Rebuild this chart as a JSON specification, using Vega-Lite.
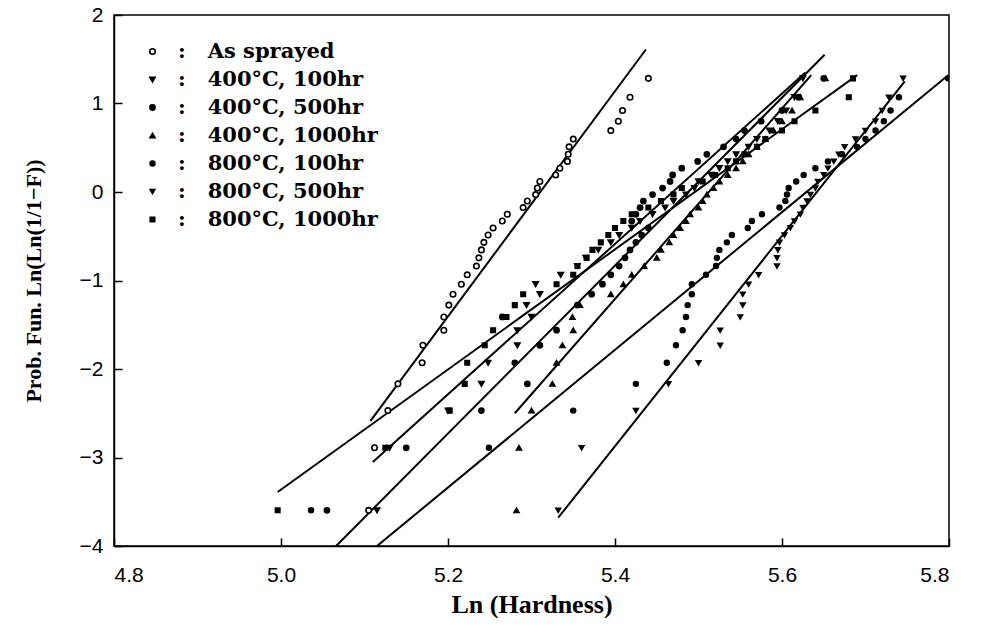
{
  "$schema": "https://vega.github.io/schema/vega-lite/v6.json",
  "width": 835,
  "height": 531,
  "autosize": {"type": "none"},
  "padding": {"left": 114, "top": 15, "right": 32, "bottom": 80},
  "background": "white",
  "datasets": {
    "pts": [
      {"s":"As sprayed","x":5.105,"y":-3.597},{"s":"As sprayed","x":5.112,"y":-2.890},{"s":"As sprayed","x":5.128,"y":-2.470},{"s":"As sprayed","x":5.140,"y":-2.168},{"s":"As sprayed","x":5.169,"y":-1.930},{"s":"As sprayed","x":5.170,"y":-1.732},{"s":"As sprayed","x":5.195,"y":-1.562},{"s":"As sprayed","x":5.195,"y":-1.412},{"s":"As sprayed","x":5.201,"y":-1.278},{"s":"As sprayed","x":5.206,"y":-1.155},{"s":"As sprayed","x":5.216,"y":-1.042},{"s":"As sprayed","x":5.223,"y":-0.936},{"s":"As sprayed","x":5.234,"y":-0.837},{"s":"As sprayed","x":5.237,"y":-0.744},{"s":"As sprayed","x":5.240,"y":-0.654},{"s":"As sprayed","x":5.243,"y":-0.569},{"s":"As sprayed","x":5.248,"y":-0.486},{"s":"As sprayed","x":5.254,"y":-0.406},{"s":"As sprayed","x":5.265,"y":-0.328},{"s":"As sprayed","x":5.271,"y":-0.251},{"s":"As sprayed","x":5.290,"y":-0.176},{"s":"As sprayed","x":5.295,"y":-0.102},{"s":"As sprayed","x":5.305,"y":-0.029},{"s":"As sprayed","x":5.307,"y":0.045},{"s":"As sprayed","x":5.310,"y":0.119},{"s":"As sprayed","x":5.329,"y":0.193},{"s":"As sprayed","x":5.334,"y":0.269},{"s":"As sprayed","x":5.343,"y":0.346},{"s":"As sprayed","x":5.344,"y":0.426},{"s":"As sprayed","x":5.345,"y":0.510},{"s":"As sprayed","x":5.350,"y":0.598},{"s":"As sprayed","x":5.395,"y":0.694},{"s":"As sprayed","x":5.404,"y":0.800},{"s":"As sprayed","x":5.409,"y":0.921},{"s":"As sprayed","x":5.418,"y":1.071},{"s":"As sprayed","x":5.440,"y":1.284},
      {"s":"400°C, 100hr","x":5.115,"y":-3.597},{"s":"400°C, 100hr","x":5.130,"y":-2.890},{"s":"400°C, 100hr","x":5.200,"y":-2.470},{"s":"400°C, 100hr","x":5.240,"y":-2.168},{"s":"400°C, 100hr","x":5.248,"y":-1.930},{"s":"400°C, 100hr","x":5.283,"y":-1.732},{"s":"400°C, 100hr","x":5.283,"y":-1.562},{"s":"400°C, 100hr","x":5.300,"y":-1.412},{"s":"400°C, 100hr","x":5.294,"y":-1.278},{"s":"400°C, 100hr","x":5.310,"y":-1.155},{"s":"400°C, 100hr","x":5.305,"y":-1.042},{"s":"400°C, 100hr","x":5.335,"y":-0.936},{"s":"400°C, 100hr","x":5.355,"y":-0.837},{"s":"400°C, 100hr","x":5.365,"y":-0.744},{"s":"400°C, 100hr","x":5.380,"y":-0.654},{"s":"400°C, 100hr","x":5.395,"y":-0.569},{"s":"400°C, 100hr","x":5.405,"y":-0.486},{"s":"400°C, 100hr","x":5.420,"y":-0.406},{"s":"400°C, 100hr","x":5.430,"y":-0.328},{"s":"400°C, 100hr","x":5.445,"y":-0.251},{"s":"400°C, 100hr","x":5.460,"y":-0.176},{"s":"400°C, 100hr","x":5.470,"y":-0.102},{"s":"400°C, 100hr","x":5.485,"y":-0.029},{"s":"400°C, 100hr","x":5.495,"y":0.045},{"s":"400°C, 100hr","x":5.500,"y":0.119},{"s":"400°C, 100hr","x":5.515,"y":0.193},{"s":"400°C, 100hr","x":5.525,"y":0.269},{"s":"400°C, 100hr","x":5.535,"y":0.346},{"s":"400°C, 100hr","x":5.545,"y":0.426},{"s":"400°C, 100hr","x":5.560,"y":0.510},{"s":"400°C, 100hr","x":5.570,"y":0.598},{"s":"400°C, 100hr","x":5.585,"y":0.694},{"s":"400°C, 100hr","x":5.595,"y":0.800},{"s":"400°C, 100hr","x":5.605,"y":0.921},{"s":"400°C, 100hr","x":5.615,"y":1.071},{"s":"400°C, 100hr","x":5.625,"y":1.284},
      {"s":"400°C, 500hr","x":5.055,"y":-3.597},{"s":"400°C, 500hr","x":5.150,"y":-2.890},{"s":"400°C, 500hr","x":5.240,"y":-2.470},{"s":"400°C, 500hr","x":5.295,"y":-2.168},{"s":"400°C, 500hr","x":5.280,"y":-1.930},{"s":"400°C, 500hr","x":5.310,"y":-1.732},{"s":"400°C, 500hr","x":5.330,"y":-1.562},{"s":"400°C, 500hr","x":5.265,"y":-1.412},{"s":"400°C, 500hr","x":5.355,"y":-1.278},{"s":"400°C, 500hr","x":5.372,"y":-1.155},{"s":"400°C, 500hr","x":5.385,"y":-1.042},{"s":"400°C, 500hr","x":5.395,"y":-0.936},{"s":"400°C, 500hr","x":5.405,"y":-0.837},{"s":"400°C, 500hr","x":5.412,"y":-0.744},{"s":"400°C, 500hr","x":5.418,"y":-0.654},{"s":"400°C, 500hr","x":5.425,"y":-0.569},{"s":"400°C, 500hr","x":5.432,"y":-0.486},{"s":"400°C, 500hr","x":5.440,"y":-0.406},{"s":"400°C, 500hr","x":5.420,"y":-0.328},{"s":"400°C, 500hr","x":5.425,"y":-0.251},{"s":"400°C, 500hr","x":5.430,"y":-0.176},{"s":"400°C, 500hr","x":5.434,"y":-0.102},{"s":"400°C, 500hr","x":5.445,"y":-0.029},{"s":"400°C, 500hr","x":5.457,"y":0.045},{"s":"400°C, 500hr","x":5.466,"y":0.119},{"s":"400°C, 500hr","x":5.469,"y":0.193},{"s":"400°C, 500hr","x":5.480,"y":0.269},{"s":"400°C, 500hr","x":5.499,"y":0.346},{"s":"400°C, 500hr","x":5.510,"y":0.426},{"s":"400°C, 500hr","x":5.530,"y":0.510},{"s":"400°C, 500hr","x":5.545,"y":0.598},{"s":"400°C, 500hr","x":5.555,"y":0.694},{"s":"400°C, 500hr","x":5.575,"y":0.800},{"s":"400°C, 500hr","x":5.600,"y":0.921},{"s":"400°C, 500hr","x":5.620,"y":1.071},{"s":"400°C, 500hr","x":5.650,"y":1.284},
      {"s":"400°C, 1000hr","x":5.282,"y":-3.597},{"s":"400°C, 1000hr","x":5.285,"y":-2.890},{"s":"400°C, 1000hr","x":5.300,"y":-2.470},{"s":"400°C, 1000hr","x":5.325,"y":-2.168},{"s":"400°C, 1000hr","x":5.330,"y":-1.930},{"s":"400°C, 1000hr","x":5.337,"y":-1.732},{"s":"400°C, 1000hr","x":5.350,"y":-1.562},{"s":"400°C, 1000hr","x":5.349,"y":-1.412},{"s":"400°C, 1000hr","x":5.358,"y":-1.278},{"s":"400°C, 1000hr","x":5.395,"y":-1.155},{"s":"400°C, 1000hr","x":5.410,"y":-1.042},{"s":"400°C, 1000hr","x":5.420,"y":-0.936},{"s":"400°C, 1000hr","x":5.435,"y":-0.837},{"s":"400°C, 1000hr","x":5.450,"y":-0.744},{"s":"400°C, 1000hr","x":5.455,"y":-0.654},{"s":"400°C, 1000hr","x":5.465,"y":-0.569},{"s":"400°C, 1000hr","x":5.470,"y":-0.486},{"s":"400°C, 1000hr","x":5.478,"y":-0.406},{"s":"400°C, 1000hr","x":5.485,"y":-0.328},{"s":"400°C, 1000hr","x":5.490,"y":-0.251},{"s":"400°C, 1000hr","x":5.500,"y":-0.176},{"s":"400°C, 1000hr","x":5.505,"y":-0.102},{"s":"400°C, 1000hr","x":5.510,"y":-0.029},{"s":"400°C, 1000hr","x":5.518,"y":0.045},{"s":"400°C, 1000hr","x":5.525,"y":0.119},{"s":"400°C, 1000hr","x":5.535,"y":0.193},{"s":"400°C, 1000hr","x":5.545,"y":0.269},{"s":"400°C, 1000hr","x":5.553,"y":0.346},{"s":"400°C, 1000hr","x":5.560,"y":0.426},{"s":"400°C, 1000hr","x":5.570,"y":0.510},{"s":"400°C, 1000hr","x":5.580,"y":0.598},{"s":"400°C, 1000hr","x":5.590,"y":0.694},{"s":"400°C, 1000hr","x":5.600,"y":0.800},{"s":"400°C, 1000hr","x":5.612,"y":0.921},{"s":"400°C, 1000hr","x":5.622,"y":1.071},{"s":"400°C, 1000hr","x":5.652,"y":1.284},
      {"s":"800°C, 100hr","x":5.036,"y":-3.597},{"s":"800°C, 100hr","x":5.249,"y":-2.890},{"s":"800°C, 100hr","x":5.350,"y":-2.470},{"s":"800°C, 100hr","x":5.425,"y":-2.168},{"s":"800°C, 100hr","x":5.462,"y":-1.930},{"s":"800°C, 100hr","x":5.473,"y":-1.732},{"s":"800°C, 100hr","x":5.481,"y":-1.562},{"s":"800°C, 100hr","x":5.485,"y":-1.412},{"s":"800°C, 100hr","x":5.487,"y":-1.278},{"s":"800°C, 100hr","x":5.492,"y":-1.155},{"s":"800°C, 100hr","x":5.492,"y":-1.042},{"s":"800°C, 100hr","x":5.509,"y":-0.936},{"s":"800°C, 100hr","x":5.521,"y":-0.837},{"s":"800°C, 100hr","x":5.522,"y":-0.744},{"s":"800°C, 100hr","x":5.525,"y":-0.654},{"s":"800°C, 100hr","x":5.534,"y":-0.569},{"s":"800°C, 100hr","x":5.540,"y":-0.486},{"s":"800°C, 100hr","x":5.559,"y":-0.406},{"s":"800°C, 100hr","x":5.564,"y":-0.328},{"s":"800°C, 100hr","x":5.576,"y":-0.251},{"s":"800°C, 100hr","x":5.597,"y":-0.176},{"s":"800°C, 100hr","x":5.604,"y":-0.102},{"s":"800°C, 100hr","x":5.606,"y":-0.029},{"s":"800°C, 100hr","x":5.608,"y":0.045},{"s":"800°C, 100hr","x":5.617,"y":0.119},{"s":"800°C, 100hr","x":5.626,"y":0.193},{"s":"800°C, 100hr","x":5.640,"y":0.269},{"s":"800°C, 100hr","x":5.655,"y":0.346},{"s":"800°C, 100hr","x":5.672,"y":0.426},{"s":"800°C, 100hr","x":5.690,"y":0.510},{"s":"800°C, 100hr","x":5.700,"y":0.598},{"s":"800°C, 100hr","x":5.712,"y":0.694},{"s":"800°C, 100hr","x":5.722,"y":0.800},{"s":"800°C, 100hr","x":5.730,"y":0.921},{"s":"800°C, 100hr","x":5.740,"y":1.071},{"s":"800°C, 100hr","x":5.799,"y":1.284},
      {"s":"800°C, 500hr","x":5.332,"y":-3.597},{"s":"800°C, 500hr","x":5.360,"y":-2.890},{"s":"800°C, 500hr","x":5.425,"y":-2.470},{"s":"800°C, 500hr","x":5.464,"y":-2.168},{"s":"800°C, 500hr","x":5.500,"y":-1.930},{"s":"800°C, 500hr","x":5.526,"y":-1.732},{"s":"800°C, 500hr","x":5.526,"y":-1.562},{"s":"800°C, 500hr","x":5.550,"y":-1.412},{"s":"800°C, 500hr","x":5.553,"y":-1.278},{"s":"800°C, 500hr","x":5.553,"y":-1.155},{"s":"800°C, 500hr","x":5.560,"y":-1.042},{"s":"800°C, 500hr","x":5.572,"y":-0.936},{"s":"800°C, 500hr","x":5.594,"y":-0.837},{"s":"800°C, 500hr","x":5.594,"y":-0.744},{"s":"800°C, 500hr","x":5.595,"y":-0.654},{"s":"800°C, 500hr","x":5.597,"y":-0.569},{"s":"800°C, 500hr","x":5.603,"y":-0.486},{"s":"800°C, 500hr","x":5.610,"y":-0.406},{"s":"800°C, 500hr","x":5.615,"y":-0.328},{"s":"800°C, 500hr","x":5.622,"y":-0.251},{"s":"800°C, 500hr","x":5.625,"y":-0.176},{"s":"800°C, 500hr","x":5.630,"y":-0.102},{"s":"800°C, 500hr","x":5.634,"y":-0.029},{"s":"800°C, 500hr","x":5.640,"y":0.045},{"s":"800°C, 500hr","x":5.643,"y":0.119},{"s":"800°C, 500hr","x":5.650,"y":0.193},{"s":"800°C, 500hr","x":5.655,"y":0.269},{"s":"800°C, 500hr","x":5.662,"y":0.346},{"s":"800°C, 500hr","x":5.668,"y":0.426},{"s":"800°C, 500hr","x":5.675,"y":0.510},{"s":"800°C, 500hr","x":5.688,"y":0.598},{"s":"800°C, 500hr","x":5.700,"y":0.694},{"s":"800°C, 500hr","x":5.712,"y":0.800},{"s":"800°C, 500hr","x":5.720,"y":0.921},{"s":"800°C, 500hr","x":5.728,"y":1.071},{"s":"800°C, 500hr","x":5.745,"y":1.284},
      {"s":"800°C, 1000hr","x":4.996,"y":-3.597},{"s":"800°C, 1000hr","x":5.125,"y":-2.890},{"s":"800°C, 1000hr","x":5.202,"y":-2.470},{"s":"800°C, 1000hr","x":5.220,"y":-2.168},{"s":"800°C, 1000hr","x":5.223,"y":-1.930},{"s":"800°C, 1000hr","x":5.244,"y":-1.732},{"s":"800°C, 1000hr","x":5.254,"y":-1.562},{"s":"800°C, 1000hr","x":5.270,"y":-1.412},{"s":"800°C, 1000hr","x":5.280,"y":-1.278},{"s":"800°C, 1000hr","x":5.290,"y":-1.155},{"s":"800°C, 1000hr","x":5.330,"y":-1.042},{"s":"800°C, 1000hr","x":5.350,"y":-0.936},{"s":"800°C, 1000hr","x":5.355,"y":-0.837},{"s":"800°C, 1000hr","x":5.366,"y":-0.744},{"s":"800°C, 1000hr","x":5.373,"y":-0.654},{"s":"800°C, 1000hr","x":5.383,"y":-0.569},{"s":"800°C, 1000hr","x":5.392,"y":-0.486},{"s":"800°C, 1000hr","x":5.400,"y":-0.406},{"s":"800°C, 1000hr","x":5.410,"y":-0.328},{"s":"800°C, 1000hr","x":5.420,"y":-0.251},{"s":"800°C, 1000hr","x":5.440,"y":-0.176},{"s":"800°C, 1000hr","x":5.455,"y":-0.102},{"s":"800°C, 1000hr","x":5.470,"y":-0.029},{"s":"800°C, 1000hr","x":5.480,"y":0.045},{"s":"800°C, 1000hr","x":5.505,"y":0.119},{"s":"800°C, 1000hr","x":5.520,"y":0.193},{"s":"800°C, 1000hr","x":5.535,"y":0.269},{"s":"800°C, 1000hr","x":5.545,"y":0.346},{"s":"800°C, 1000hr","x":5.555,"y":0.426},{"s":"800°C, 1000hr","x":5.570,"y":0.510},{"s":"800°C, 1000hr","x":5.580,"y":0.598},{"s":"800°C, 1000hr","x":5.600,"y":0.694},{"s":"800°C, 1000hr","x":5.615,"y":0.800},{"s":"800°C, 1000hr","x":5.640,"y":0.921},{"s":"800°C, 1000hr","x":5.680,"y":1.071},{"s":"800°C, 1000hr","x":5.685,"y":1.284}
    ],
    "lines": [
      {"s":"As sprayed","x":5.107,"y":-2.59},{"s":"As sprayed","x":5.437,"y":1.61},
      {"s":"800°C, 1000hr","x":4.996,"y":-3.39},{"s":"800°C, 1000hr","x":5.690,"y":1.32},
      {"s":"400°C, 100hr","x":5.110,"y":-3.05},{"s":"400°C, 100hr","x":5.628,"y":1.35},
      {"s":"400°C, 500hr","x":5.066,"y":-4.0},{"s":"400°C, 500hr","x":5.651,"y":1.55},
      {"s":"800°C, 100hr","x":5.115,"y":-4.0},{"s":"800°C, 100hr","x":5.799,"y":1.32},
      {"s":"800°C, 500hr","x":5.332,"y":-3.68},{"s":"800°C, 500hr","x":5.747,"y":1.25},
      {"s":"400°C, 1000hr","x":5.280,"y":-2.50},{"s":"400°C, 1000hr","x":5.635,"y":1.32}
    ]
  },
  "layer": [
    {
      "data": {"name": "lines"},
      "mark": {"type": "line", "color": "black", "strokeWidth": 2, "clip": true},
      "encoding": {
        "x": {"field": "x", "type": "quantitative", "scale": {"domain": [4.8, 5.8], "nice": false, "zero": false}},
        "y": {"field": "y", "type": "quantitative", "scale": {"domain": [-4, 2], "nice": false, "zero": false}},
        "detail": {"field": "s"}
      }
    },
    {
      "data": {"name": "pts"},
      "mark": {"type": "point", "filled": true, "stroke": "black", "strokeWidth": 1.6, "opacity": 1, "clip": true},
      "encoding": {
        "x": {"field": "x", "type": "quantitative",
          "axis": {"values": [4.8, 5.0, 5.2, 5.4, 5.6, 5.8], "format": ".1f", "title": "Ln (Hardness)"}},
        "y": {"field": "y", "type": "quantitative",
          "axis": {"values": [-4, -3, -2, -1, 0, 1, 2], "format": "d", "title": "Prob. Fun. Ln(Ln(1/1−F))"}},
        "shape": {"field": "s", "type": "nominal",
          "scale": {"domain": ["As sprayed","400°C, 100hr","400°C, 500hr","400°C, 1000hr","800°C, 100hr","800°C, 500hr","800°C, 1000hr"],
                    "range": ["circle","triangle-down","circle","triangle-up","circle","triangle-down","square"]},
          "legend": {"title": null, "orient": "none", "legendX": 28, "legendY": 26, "labelFont": "DejaVu Serif", "labelFontWeight": "bold", "labelFontSize": 21, "labelColor": "black", "rowPadding": 6, "labelOffset": 15, "labelLimit": 400, "labelExpr": "':\u00a0\u00a0\u00a0' + datum.label", "symbolStrokeColor": "black", "symbolStrokeWidth": 1.6}},
        "size": {"field": "s", "type": "nominal",
          "scale": {"domain": ["As sprayed","400°C, 100hr","400°C, 500hr","400°C, 1000hr","800°C, 100hr","800°C, 500hr","800°C, 1000hr"],
                    "range": [30, 20, 30, 24, 45, 34, 18]}},
        "fill": {"field": "s", "type": "nominal",
          "scale": {"domain": ["As sprayed","400°C, 100hr","400°C, 500hr","400°C, 1000hr","800°C, 100hr","800°C, 500hr","800°C, 1000hr"],
                    "range": ["white","black","black","black","black","black","black"]}}
      }
    }
  ],
  "config": {
    "view": {"stroke": "black", "strokeWidth": 1.5},
    "axis": {
      "grid": false,
      "domainColor": "black", "domainWidth": 1.5,
      "tickColor": "black", "tickWidth": 1.5, "tickSize": -8,
      "labelFont": "Liberation Sans", "labelFontSize": 21, "labelColor": "black",
      "titleFont": "Liberation Serif", "titleFontWeight": "bold", "titleColor": "black"
    },
    "axisX": {"labelPadding": 26, "titlePadding": 6, "titleFontSize": 26},
    "axisY": {"labelPadding": 19, "titlePadding": 34, "titleFontSize": 22}
  }
}
